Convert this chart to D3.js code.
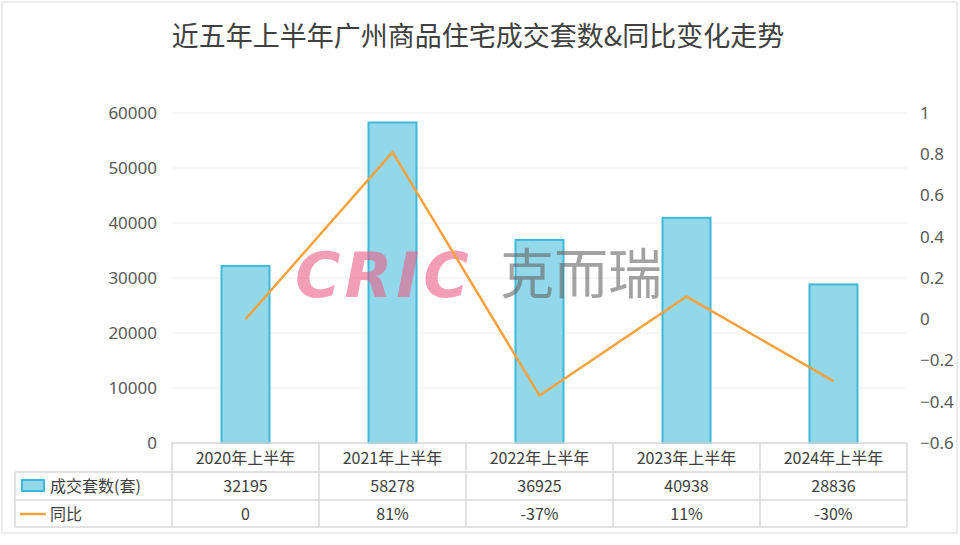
<!DOCTYPE html>
<html><head><meta charset="utf-8">
<script src="https://cdn.jsdelivr.net/npm/d3@7"></script>
<style>body{margin:0;background:#fff;font-family:"Noto Sans CJK SC","Noto Sans",sans-serif;}</style>
</head><body><div id="chart"></div>
<script>
const categories = ["2020年上半年","2021年上半年","2022年上半年","2023年上半年","2024年上半年"];
const deals = [32195, 58278, 36925, 40938, 28836];
const yoy = [0, 0.81, -0.37, 0.11, -0.30];
const yoyLabels = ["0","81%","-37%","11%","-30%"];
const leftTicks = [0,10000,20000,30000,40000,50000,60000];
const rightTicks = [-0.6,-0.4,-0.2,0,0.2,0.4,0.6,0.8,1];

const W = 960, H = 545;
const L = 172, R = 907, T = 113, B = 443;
const svg = d3.select("#chart").append("svg").attr("width", W).attr("height", H);
svg.append("rect").attr("x",2).attr("y",2).attr("width",955).attr("height",531)
  .attr("fill","#fff").attr("stroke","#d9d9d9");

svg.append("text").attr("x",478).attr("y",46).attr("text-anchor","middle")
  .attr("font-size",27).attr("fill","#404040").text("近五年上半年广州商品住宅成交套数&同比变化走势");

const x = d3.scaleBand().domain(categories).range([L,R]);
const y = d3.scaleLinear().domain([0,60000]).range([B,T]);
const y2 = d3.scaleLinear().domain([-0.6,1]).range([B,T]);

svg.append("g").selectAll("line").data(leftTicks).join("line")
  .attr("x1",L).attr("x2",R).attr("y1",d=>y(d)).attr("y2",d=>y(d)).attr("stroke","#eeeeee");

const ya = svg.append("g").attr("transform",`translate(${L-12},0)`)
  .call(d3.axisLeft(y).tickValues(leftTicks).tickSize(0).tickFormat(d3.format("d")));
ya.select(".domain").remove();
ya.selectAll("text").attr("font-size",17).attr("fill","#595959").attr("font-family","Noto Sans");
const ya2 = svg.append("g").attr("transform",`translate(${R+10},0)`)
  .call(d3.axisRight(y2).tickValues(rightTicks).tickSize(0).tickFormat(d=>d3.format("")(+d.toFixed(1))));
ya2.select(".domain").remove();
ya2.selectAll("text").attr("font-size",17).attr("fill","#595959").attr("font-family","Noto Sans");

const bw = 48;
svg.append("g").selectAll("rect").data(deals).join("rect")
  .attr("x",(d,i)=>x(categories[i])+x.bandwidth()/2-bw/2).attr("y",d=>y(d))
  .attr("width",bw).attr("height",d=>B-y(d))
  .attr("fill","#93d7ea").attr("stroke","#3fb8d9").attr("stroke-width",2);

// watermark
const wm = svg.append("g").attr("opacity",0.6);
wm.append("text").attr("x",295).attr("y",297).attr("font-size",62).attr("font-weight","bold")
  .attr("font-style","italic").attr("fill","#ec5f86").attr("font-family","DejaVu Sans").attr("letter-spacing",4).text("CRIC");
wm.append("text").attr("x",500).attr("y",294).attr("font-size",54).attr("fill","#666").text("克而瑞");

svg.append("path").datum(yoy)
  .attr("d",d3.line().x((d,i)=>x(categories[i])+x.bandwidth()/2).y(d=>y2(d)))
  .attr("fill","none").attr("stroke","#f7a240").attr("stroke-width",2.5);

// data table
const tl = 15, grid = "#d9d9d9";
const tg = svg.append("g").attr("stroke",grid).attr("stroke-width",1.5);
tg.append("line").attr("x1",L).attr("x2",R).attr("y1",B).attr("y2",B);
[472,500,527].forEach(r=>tg.append("line").attr("x1",tl).attr("x2",R).attr("y1",r).attr("y2",r));
categories.forEach((c,i)=>tg.append("line").attr("x1",x(c)).attr("x2",x(c)).attr("y1",B).attr("y2",527));
tg.append("line").attr("x1",R).attr("x2",R).attr("y1",B).attr("y2",527);
tg.append("line").attr("x1",tl).attr("x2",tl).attr("y1",472).attr("y2",527);

const cell = (tx,ty,s)=>svg.append("text").attr("x",tx).attr("y",ty).attr("text-anchor","middle")
  .attr("font-size",16).attr("fill","#404040").text(s);
categories.forEach((c,i)=>{
  const cx = x(c)+x.bandwidth()/2;
  cell(cx,464,c); cell(cx,492,deals[i]); cell(cx,520,yoyLabels[i]);
});
svg.append("rect").attr("x",22).attr("y",480).attr("width",22).attr("height",11)
  .attr("fill","#93d7ea").attr("stroke","#3fb8d9").attr("stroke-width",2);
svg.append("text").attr("x",50).attr("y",492).attr("font-size",16).attr("fill","#404040").text("成交套数(套)");
svg.append("line").attr("x1",20).attr("x2",46).attr("y1",514).attr("y2",514).attr("stroke","#f7a240").attr("stroke-width",2.5);
svg.append("text").attr("x",50).attr("y",520).attr("font-size",16).attr("fill","#404040").text("同比");
</script></body></html>
